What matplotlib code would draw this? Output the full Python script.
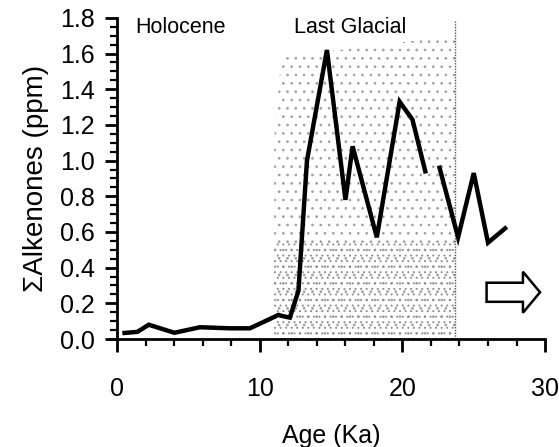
import numpy as np
import matplotlib.pyplot as plt
from matplotlib.patches import FancyArrow
from matplotlib.ticker import MultipleLocator

plt.rcParams['font.family'] = ['Liberation Sans', 'DejaVu Sans']
plt.rcParams['hatch.linewidth'] = 0.7

# Alkenone record (age in ka, concentration in ppm); NaN marks a gap in the core
age = [0.5, 1.4, 2.2, 4.0, 5.8, 7.9, 9.3, 11.3, 11.5, 12.1, 12.7, 13.3, 14.7,
       16.0, 16.5, 18.2, 19.8, 20.7, 21.6, np.nan, 22.6, 23.9, 25.0, 26.0, 27.2]
alkenones = [0.034, 0.04, 0.08, 0.035, 0.066, 0.06, 0.06, 0.135, 0.13, 0.12, 0.27, 1.0, 1.62,
             0.78, 1.08, 0.57, 1.33, 1.23, 0.94, np.nan, 0.96, 0.57, 0.93, 0.54, 0.62]

glacial_start, glacial_end = 11.0, 23.7
x_ticks = [0, 10, 20, 30]
y_ticks = [0.0, 0.2, 0.4, 0.6, 0.8, 1.0, 1.2, 1.4, 1.6, 1.8]

fig = plt.figure(figsize=(5.59, 4.47), dpi=100)
ax = fig.add_axes([0.210, 0.2416, 0.765, 0.7184])

# stippled band for the last glacial period (sparser towards the top)
band_x = [glacial_start, glacial_start + 0.5, glacial_end]
band_top = [1.12, 1.58, 1.70]
ax.fill_between(band_x, 0, band_top, facecolor='white', edgecolor='#a0a0a0',
                hatch='..', linewidth=0, zorder=1)
ax.fill_between([glacial_start, glacial_end], 0, 0.55, facecolor='none',
                edgecolor='#909090', hatch='...', linewidth=0, zorder=1)
ax.plot([glacial_end, glacial_end], [0, 1.78], color='#555555', lw=1.0,
        linestyle=(0, (1, 1)), zorder=2)

ax.plot(age, alkenones, color='black', lw=3.2, solid_joinstyle='miter', zorder=3)

# open arrow pointing to older ages
arrow = FancyArrow(25.9, 0.262, 3.75, 0, width=0.107, head_width=0.23,
                   head_length=1.2, length_includes_head=True,
                   facecolor='white', edgecolor='black', lw=1.8, zorder=3)
ax.add_patch(arrow)

ax.text(1.25, 1.745, 'Holocene', fontsize=15.5, va='center', ha='left')
ax.text(12.4, 1.745, 'Last Glacial', fontsize=15.5, va='center', ha='left')

ax.set_xlim(0, 30)
ax.set_ylim(0, 1.8)
ax.set_xticks(x_ticks)
ax.set_yticks(y_ticks)
ax.set_yticklabels([f'{v:.1f}' for v in y_ticks])
ax.xaxis.set_minor_locator(MultipleLocator(2))
ax.yaxis.set_minor_locator(MultipleLocator(0.05))

for side in ('top', 'right'):
    ax.spines[side].set_visible(False)
for side in ('left', 'bottom'):
    ax.spines[side].set_linewidth(2.0)
ax.spines['bottom'].set_bounds(-0.5, 30)

ax.tick_params(axis='both', which='major', direction='out', width=2.0, length=9,
               labelsize=18)
ax.tick_params(axis='both', which='minor', direction='out', width=1.6, length=5)
ax.tick_params(axis='x', which='major', pad=18)
ax.tick_params(axis='y', which='major', pad=7)

ax.set_xlabel('Age (Ka)', fontsize=18, labelpad=17)
ax.set_ylabel('ΣAlkenones (ppm)', fontsize=20, labelpad=8)

fig.savefig('out.png', dpi=100)
